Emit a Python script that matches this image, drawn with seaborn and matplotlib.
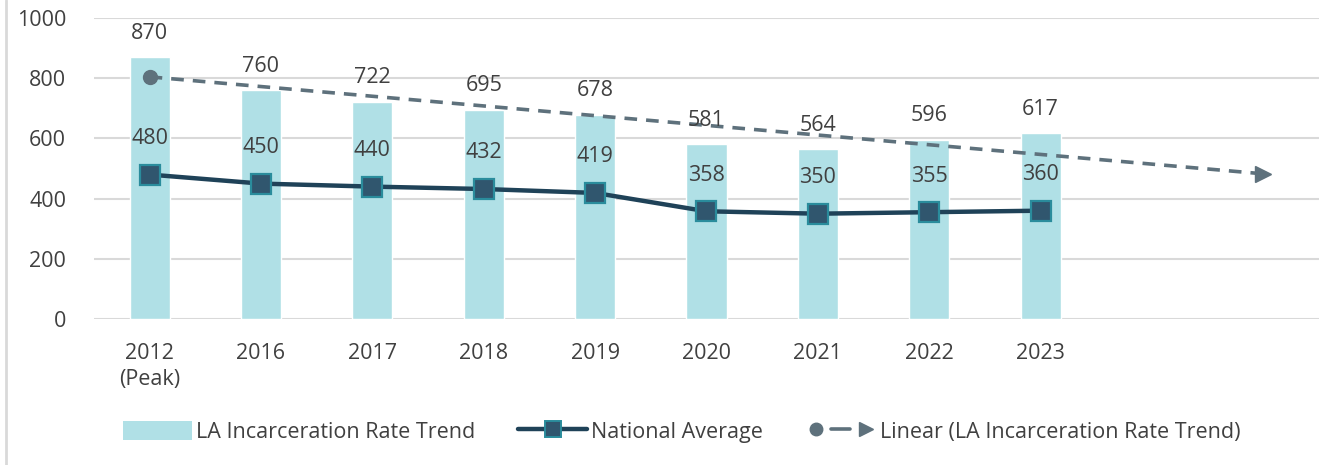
import numpy as np
import pandas as pd
import matplotlib
matplotlib.use("Agg")
import matplotlib.pyplot as plt
import seaborn as sns
from matplotlib.lines import Line2D
from matplotlib.patches import Patch
from matplotlib.legend_handler import HandlerTuple

# data
years = ["2012\n(Peak)", "2016", "2017", "2018", "2019", "2020", "2021", "2022", "2023"]
la_rate = [870, 760, 722, 695, 678, 581, 564, 596, 617]
national_avg = [480, 450, 440, 432, 419, 358, 350, 355, 360]
forecast_periods = 2

sns.set_theme(style="white")
plt.rcParams['font.family'] = ['Open Sans', 'DejaVu Sans']

bar_col = "#B0E0E6"
line_col = "#1F4258"
mark_face = "#30566E"
mark_edge = "#2A8C9C"
trend_col = "#5E717C"
text_col = "#404040"
fs = 15.5

df = pd.DataFrame({"year": years, "la": la_rate, "nat": national_avg})
df["pos"] = np.arange(len(df))

fig = plt.figure(figsize=(13.23, 4.65), dpi=100)
ax = fig.add_axes([0.071, 0.314, 0.926, 0.647])

# bars
ax.bar(df["pos"], df["la"], width=0.36, color=bar_col, zorder=2)

# national average line
sns.lineplot(data=df, x="pos", y="nat", ax=ax, color=line_col, linewidth=3.2,
             marker="s", markersize=15, markerfacecolor=mark_face,
             markeredgecolor=mark_edge, markeredgewidth=1.6, zorder=4)

# linear trendline of LA bars, with forward forecast
coef = np.polyfit(df["pos"], df["la"], 1)
tx = np.arange(len(df) + forecast_periods)
ty = np.polyval(coef, tx)
ax.plot(tx, ty, color=trend_col, linestyle=(0, (3.5, 2.5)), linewidth=2.6, zorder=5)
ax.plot(tx[0], ty[0], marker="o", markersize=10, color=trend_col, zorder=5)
ax.plot(tx[-1], ty[-1], marker=">", markersize=11, color=trend_col, zorder=5)

# value labels
for p, v in zip(df["pos"], df["la"]):
    ax.text(p, v + 80, str(v), ha="center", va="center", fontsize=fs, color=text_col, zorder=6)
for p, v in zip(df["pos"], df["nat"]):
    ax.text(p, v + 120, str(v), ha="center", va="center", fontsize=fs, color=text_col, zorder=6)

ax.set_xlim(-0.5, len(df) + forecast_periods - 0.5)
ax.set_ylim(0, 1000)
ax.set_yticks(range(0, 1001, 200))
ax.set_xticks(df["pos"])
ax.set_xticklabels(years, fontsize=fs, color=text_col, va="top", linespacing=1.35)
ax.tick_params(axis="y", labelsize=fs, labelcolor=text_col, length=0, pad=20)
ax.tick_params(axis="x", length=0, pad=17)
ax.set_xlabel("")
ax.set_ylabel("")
ax.grid(axis="y", color="#D9D9D9", linewidth=1.5, zorder=0)
ax.set_axisbelow(True)
for s in ax.spines.values():
    s.set_visible(False)

# legend
h_bar = Patch(facecolor=bar_col, edgecolor="none")
h_line = Line2D([], [], color=line_col, linewidth=3.2, marker="s", markersize=11,
                markerfacecolor=mark_face, markeredgecolor=mark_edge, markeredgewidth=1.4)
h_t1 = Line2D([], [], color=trend_col, marker="o", markersize=9, linestyle="none")
h_t2 = Line2D([], [], color=trend_col, linewidth=2.6, linestyle="-")
h_t3 = Line2D([], [], color=trend_col, marker=">", markersize=10, linestyle="none")
fig.legend([h_bar, h_line, (h_t1, h_t2, h_t3)],
           ["LA Incarceration Rate Trend", "National Average", "Linear (LA Incarceration Rate Trend)"],
           handler_map={tuple: HandlerTuple(ndivide=3, pad=0.3)},
           loc="center", bbox_to_anchor=(0.515, 0.071), ncol=3, frameon=False,
           fontsize=fs, labelcolor=text_col, handlelength=3.2, handletextpad=0.2,
           columnspacing=2.0, handleheight=1.0)

# chart frame left edge
fig.add_artist(Line2D([0.0045, 0.0045], [0, 1], transform=fig.transFigure,
                      color="#D9D9D9", linewidth=2))

fig.savefig("out.png", dpi=100)
